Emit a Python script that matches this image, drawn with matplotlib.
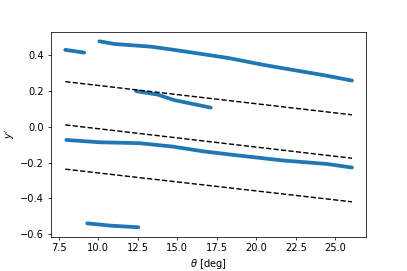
import numpy as np
import matplotlib.pyplot as plt

# branch 1 (short, top left)
x1 = [7.92, 8.5, 9.12]
y1 = [0.428, 0.421, 0.413]
# branch 2 (top long)
x2 = [10.08, 11.03, 13.34, 14.81, 16.49, 18.28, 20.48, 24.26, 26.05]
y2 = [0.476, 0.461, 0.446, 0.428, 0.406, 0.382, 0.344, 0.287, 0.257]
# branch 3 (middle short)
x3 = [12.40, 13.76, 14.81, 15.86, 17.12]
y3 = [0.198, 0.179, 0.148, 0.129, 0.106]
# branch 4 (lower long)
x4 = [7.99, 10.08, 12.6, 14.71, 16.6, 18.59, 21.74, 24.47, 26.05]
y4 = [-0.074, -0.087, -0.092, -0.111, -0.137, -0.158, -0.189, -0.208, -0.228]
# branch 5 (bottom short)
x5 = [9.31, 10.8, 12.54]
y5 = [-0.539, -0.552, -0.561]

# dashed reference lines (start/end)
xd = [7.92, 26.05]
yd_top = [0.251, 0.066]
yd_mid = [0.010, -0.176]
yd_low = [-0.237, -0.419]

plt.rcParams['font.size'] = 10.5

fig = plt.figure(figsize=(6, 271 / (407 / 6)), dpi=407 / 6)
ax = fig.add_subplot(111)
fig.subplots_adjust(left=0.125, right=0.9, bottom=0.127, top=0.882)

for xs, ys in [(x1, y1), (x2, y2), (x3, y3), (x4, y4), (x5, y5)]:
    ax.plot(xs, ys, color='#1f77b4', lw=4.0, solid_capstyle='round')

for yd in [yd_top, yd_mid, yd_low]:
    ax.plot(xd, yd, 'k--')

ax.set_xticks(np.arange(7.5, 25.1, 2.5))
ax.set_xlabel(r'$\theta$ [deg]')
ax.set_ylabel(r"$y'$")
fig.savefig('out.png')
